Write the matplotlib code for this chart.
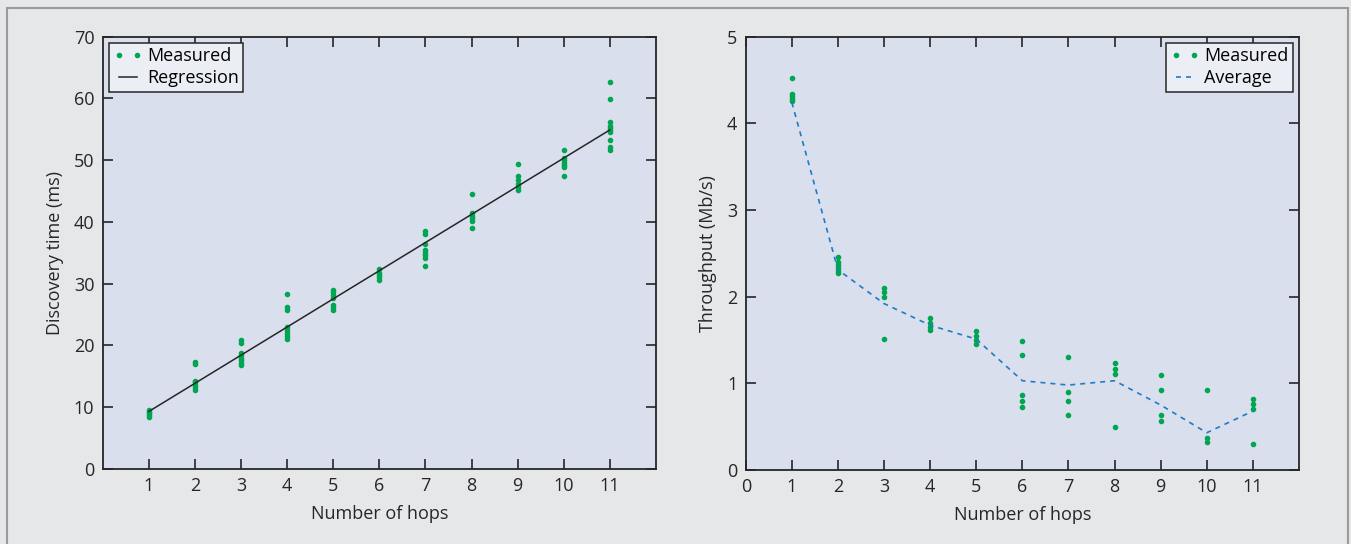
import numpy as np
import matplotlib
matplotlib.use("Agg")
import matplotlib.pyplot as plt
from matplotlib.patches import Rectangle

# Left panel: discovery time per hop count (ms)
disc_hops = [1, 2, 3, 4, 5, 6, 7, 8, 9, 10, 11]
disc_measured = [
    [8.4, 8.8, 9.0, 9.2, 9.5],
    [17.0, 17.3, 12.8, 13.2, 13.6, 14.0, 14.3],
    [20.4, 20.9, 16.8, 17.2, 17.6, 18.0, 18.4, 18.8],
    [28.4, 26.2, 25.8, 23.0, 22.5, 22.0, 21.5, 21.0],
    [29.0, 28.6, 28.2, 27.7, 26.6, 26.2, 25.8],
    [32.3, 31.8, 31.4, 31.0, 30.6],
    [38.6, 38.1, 36.5, 35.4, 35.0, 34.6, 34.2, 32.9],
    [44.5, 41.4, 41.0, 40.6, 40.2, 39.0],
    [49.3, 47.4, 46.8, 46.2, 45.6, 45.1],
    [51.7, 50.4, 50.0, 49.6, 49.2, 48.9, 47.5],
    [62.7, 59.9, 56.1, 55.6, 55.2, 54.8, 54.5, 53.2, 52.2, 51.6],
]
regression_ends = [9.3, 54.9]   # regression line values at 1 and 11 hops

# Right panel: throughput per hop count (Mb/s)
tput_hops = [1, 2, 3, 4, 5, 6, 7, 8, 9, 10, 11]
tput_measured = [
    [4.52, 4.34, 4.31, 4.28, 4.26],
    [2.46, 2.40, 2.36, 2.33, 2.30, 2.27],
    [2.10, 2.05, 2.00, 1.51],
    [1.75, 1.70, 1.65, 1.61],
    [1.60, 1.55, 1.50, 1.45],
    [1.49, 1.33, 0.86, 0.80, 0.73],
    [1.30, 0.90, 0.80, 0.64],
    [1.24, 1.16, 1.11, 0.50],
    [1.10, 0.92, 0.63, 0.56],
    [0.92, 0.37, 0.32],
    [0.82, 0.76, 0.70, 0.30],
]
tput_average = [4.24, 2.31, 1.92, 1.67, 1.51, 1.03, 0.98, 1.03, 0.75, 0.43, 0.68]

GREEN = "#00a651"
BLUE = "#1f7bc6"
FACE = "#d9dfed"
BG = "#e6e7e9"
INK = "#262626"

plt.rcParams["font.family"] = ["Open Sans", "DejaVu Sans"]
plt.rcParams["font.size"] = 13

fig = plt.figure(figsize=(13.51, 5.44), dpi=100, facecolor=BG)
# thin frame around the whole figure
fig.patches.append(Rectangle((0.005, -0.05), 0.993, 1.036, transform=fig.transFigure,
                             fill=False, edgecolor="#9a9a9a", lw=1.5))

ax1 = fig.add_axes([0.076, 0.138, 0.4096, 0.7947])
ax2 = fig.add_axes([0.552, 0.136, 0.4095, 0.7967])


def style(ax):
    ax.set_facecolor(FACE)
    for s in ax.spines.values():
        s.set_color(INK)
        s.set_linewidth(1.3)
    ax.tick_params(direction="in", length=7, width=1.2, color=INK,
                   top=True, right=True, labelsize=13, labelcolor=INK, pad=6)


def flat(hops, groups):
    xs, ys = [], []
    for h, g in zip(hops, groups):
        xs += [h] * len(g)
        ys += g
    return xs, ys


def add_legend(ax, loc):
    leg = ax.legend(loc=loc, numpoints=2, fancybox=False, framealpha=1,
                    facecolor="#eceef6", edgecolor=INK, fontsize=13,
                    handlelength=1.6, handletextpad=0.25, borderpad=0.25,
                    labelspacing=0.2, borderaxespad=0.35)
    leg.get_frame().set_linewidth(1.1)


# left panel
style(ax1)
x, y = flat(disc_hops, disc_measured)
ax1.plot(x, y, ".", color=GREEN, ms=6, label="Measured")
ax1.plot([disc_hops[0], disc_hops[-1]], regression_ends, "-", color=INK, lw=1.1,
         label="Regression")
ax1.set_xlim(0, 12)
ax1.set_ylim(0, 70)
ax1.set_xticks(disc_hops)
ax1.set_yticks(range(0, 71, 10))
ax1.set_xlabel("Number of hops", fontsize=13, color=INK, labelpad=7)
ax1.set_ylabel("Discovery time (ms)", fontsize=13, color=INK, labelpad=7)
add_legend(ax1, "upper left")

# right panel
style(ax2)
x, y = flat(tput_hops, tput_measured)
ax2.plot(x, y, ".", color=GREEN, ms=6, label="Measured")
ax2.plot(tput_hops, tput_average, "--", color=BLUE, lw=1.2, dashes=(3, 3),
         label="Average")
ax2.set_xlim(0, 12)
ax2.set_ylim(0, 5)
ax2.set_xticks(range(0, 12))
ax2.set_yticks(range(0, 6))
ax2.set_xlabel("Number of hops", fontsize=13, color=INK, labelpad=7)
ax2.set_ylabel("Throughput (Mb/s)", fontsize=13, color=INK, labelpad=7)
add_legend(ax2, "upper right")

fig.savefig("out.png", dpi=100, facecolor=BG)
